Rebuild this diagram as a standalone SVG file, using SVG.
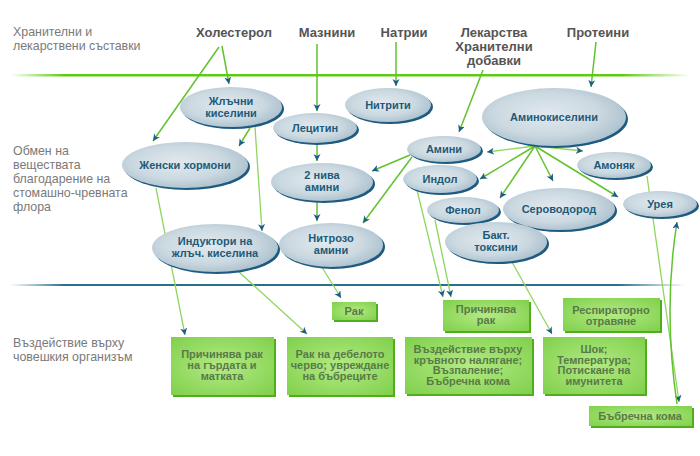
<svg xmlns="http://www.w3.org/2000/svg" width="700" height="456" viewBox="0 0 700 456">
<defs>
<style>
.lbl{font-family:"Liberation Sans",Arial,sans-serif;font-size:12.4px;fill:#7a7a7a}
.hdr{font-family:"Liberation Sans",Arial,sans-serif;font-size:13px;font-weight:bold;fill:#555;text-anchor:middle}
.et{font-family:"Liberation Sans",Arial,sans-serif;font-size:11px;font-weight:bold;fill:#1e5a78;text-anchor:middle}
.bt{font-family:"Liberation Sans",Arial,sans-serif;font-size:11px;font-weight:bold;fill:#587a48;text-anchor:middle}
.el{fill:url(#eg)}
.es{fill:#1f5b80}
.bx{fill:url(#bg)}
.bs{fill:#4fae1c}
.c{stroke:#62c22e;stroke-width:1.5;fill:none;marker-end:url(#ah)}
.cl{stroke:#8fd65e;stroke-width:1.3;fill:none;marker-end:url(#ah)}
</style>
<radialGradient id="eg" cx="0.45" cy="0.45" r="0.6">
<stop offset="0" stop-color="#e0e9ee"/>
<stop offset="0.6" stop-color="#ccd9e1"/>
<stop offset="1" stop-color="#a9bfcc"/>
</radialGradient>
<radialGradient id="bg" cx="0.5" cy="0.5" r="0.7">
<stop offset="0" stop-color="#b4ea84"/>
<stop offset="1" stop-color="#80d04c"/>
</radialGradient>
<linearGradient id="gl" x1="10" y1="0" x2="690" y2="0" gradientUnits="userSpaceOnUse">
<stop offset="0" stop-color="#5ccc14" stop-opacity="0"/>
<stop offset="0.08" stop-color="#5ccc14"/>
<stop offset="0.9" stop-color="#5ccc14"/>
<stop offset="1" stop-color="#5ccc14" stop-opacity="0"/>
</linearGradient>
<linearGradient id="bl" x1="10" y1="0" x2="685" y2="0" gradientUnits="userSpaceOnUse">
<stop offset="0" stop-color="#2b6f8f" stop-opacity="0"/>
<stop offset="0.08" stop-color="#2b6f8f"/>
<stop offset="0.9" stop-color="#2b6f8f"/>
<stop offset="1" stop-color="#2b6f8f" stop-opacity="0"/>
</linearGradient>
<marker id="ah" markerUnits="userSpaceOnUse" markerWidth="8" markerHeight="8" refX="7" refY="3.5" orient="auto">
<path d="M0,0 L7,3.5 L0,7 L2,3.5 z" fill="#1f5b8a"/>
</marker>
</defs>
<rect x="0" y="0" width="700" height="456" fill="#fff"/>

<g id="sections">
<rect x="10" y="74" width="680" height="2.5" fill="url(#gl)"/>
<rect x="10" y="284" width="675" height="2" fill="url(#bl)"/>
<text class="lbl" x="13" y="36">Хранителни и</text>
<text class="lbl" x="13" y="50">лекарствени съставки</text>
<text class="lbl" x="13" y="155">Обмен на</text>
<text class="lbl" x="13" y="169">веществата</text>
<text class="lbl" x="13" y="183">благодарение на</text>
<text class="lbl" x="13" y="197">стомашно-чревната</text>
<text class="lbl" x="13" y="211">флора</text>
<text class="lbl" x="13" y="347">Въздействие върху</text>
<text class="lbl" x="13" y="361">човешкия организъм</text>
</g>

<g id="sources">
<text class="hdr" x="234" y="37">Холестерол</text>
<text class="hdr" x="327" y="37">Мазнини</text>
<text class="hdr" x="404" y="37">Натрии</text>
<text class="hdr" x="494" y="37">Лекарства</text>
<text class="hdr" x="494" y="51">Хранителни</text>
<text class="hdr" x="494" y="65">добавки</text>
<text class="hdr" x="598" y="37">Протеини</text>
</g>

<g id="connectors">
<line class="c" x1="222" y1="46" x2="229" y2="84"/>
<line class="c" x1="219" y1="47" x2="153" y2="141"/>
<line class="c" x1="317" y1="44" x2="317" y2="111"/>
<line class="c" x1="396" y1="42" x2="396" y2="86"/>
<line class="c" x1="483" y1="70" x2="459" y2="132"/>
<line class="c" x1="596" y1="42" x2="591" y2="87"/>
<line class="c" x1="250" y1="128" x2="239" y2="146"/>
<line class="cl" x1="255" y1="127" x2="262" y2="231"/>
<line class="c" x1="317" y1="144" x2="317" y2="161"/>
<line class="c" x1="317" y1="202" x2="317" y2="221"/>
<line class="c" x1="410" y1="155" x2="372" y2="171"/>
<line class="c" x1="412" y1="157" x2="363" y2="223"/>
<line class="cl" x1="535" y1="146" x2="487" y2="152"/>
<line class="cl" x1="535" y1="146" x2="583" y2="151"/>
<line class="c" x1="535" y1="146" x2="480" y2="179"/>
<line class="c" x1="535" y1="146" x2="500" y2="198"/>
<line class="c" x1="535" y1="146" x2="553" y2="181"/>
<line class="c" x1="535" y1="146" x2="618" y2="197"/>
<line class="cl" x1="156" y1="188" x2="185" y2="335"/>
<line class="cl" x1="239" y1="272" x2="307" y2="334"/>
<line class="cl" x1="320" y1="264" x2="341" y2="298"/>
<line class="cl" x1="417" y1="190" x2="443" y2="297"/>
<line class="cl" x1="435" y1="220" x2="451" y2="297"/>
<line class="cl" x1="512" y1="262" x2="552" y2="334"/>
<line class="cl" x1="647" y1="176" x2="679" y2="402"/>
<path class="c" d="M677,404 Q663,310 677,222"/>
</g>

<g id="n-bile">
<ellipse class="es" cx="233" cy="109" rx="51" ry="20"/>
<ellipse class="el" cx="231" cy="107" rx="51" ry="20"/>
<text class="et" x="231" y="104.5">Жлъчни</text>
<text class="et" x="231" y="116.5">киселини</text>
</g>
<g id="n-lecithin">
<ellipse class="es" cx="317" cy="130" rx="42" ry="15"/>
<ellipse class="el" cx="315" cy="128" rx="42" ry="15"/>
<text class="et" x="315" y="132">Лецитин</text>
</g>
<g id="n-nitrites">
<ellipse class="es" cx="390" cy="107" rx="43" ry="17"/>
<ellipse class="el" cx="388" cy="105" rx="43" ry="17"/>
<text class="et" x="388" y="109">Нитрити</text>
</g>
<g id="n-2amines">
<ellipse class="es" cx="324" cy="184" rx="51" ry="19"/>
<ellipse class="el" cx="322" cy="182" rx="51" ry="19"/>
<text class="et" x="322" y="179">2 нива</text>
<text class="et" x="322" y="191">амини</text>
</g>
<g id="n-nitroso">
<ellipse class="es" cx="333" cy="247" rx="52" ry="22"/>
<ellipse class="el" cx="331" cy="245" rx="52" ry="22"/>
<text class="et" x="331" y="242">Нитрозо</text>
<text class="et" x="331" y="254">амини</text>
</g>
<g id="n-amino">
<ellipse class="es" cx="556" cy="119" rx="72" ry="29"/>
<ellipse class="el" cx="554" cy="117" rx="72" ry="29"/>
<text class="et" x="554" y="121">Аминокиселини</text>
</g>
<g id="n-amines">
<ellipse class="es" cx="446" cy="151" rx="37" ry="13"/>
<ellipse class="el" cx="444" cy="149" rx="37" ry="13"/>
<text class="et" x="444" y="153">Амини</text>
</g>
<g id="n-ammonia">
<ellipse class="es" cx="616" cy="167" rx="37" ry="13"/>
<ellipse class="el" cx="614" cy="165" rx="37" ry="13"/>
<text class="et" x="614" y="169">Амоняк</text>
</g>
<g id="n-indole">
<ellipse class="es" cx="442" cy="181" rx="37" ry="14"/>
<ellipse class="el" cx="440" cy="179" rx="37" ry="14"/>
<text class="et" x="440" y="183">Индол</text>
</g>
<g id="n-urea">
<ellipse class="es" cx="662" cy="206" rx="37" ry="13"/>
<ellipse class="el" cx="660" cy="204" rx="37" ry="13"/>
<text class="et" x="660" y="208">Урея</text>
</g>
<g id="n-phenol">
<ellipse class="es" cx="465" cy="212" rx="36" ry="13"/>
<ellipse class="el" cx="463" cy="210" rx="36" ry="13"/>
<text class="et" x="463" y="214">Фенол</text>
</g>
<g id="n-h2s">
<ellipse class="es" cx="561" cy="211" rx="56" ry="21"/>
<ellipse class="el" cx="559" cy="209" rx="56" ry="21"/>
<text class="et" x="559" y="213">Сероводород</text>
</g>
<g id="n-toxins">
<ellipse class="es" cx="498" cy="244" rx="51" ry="20"/>
<ellipse class="el" cx="496" cy="242" rx="51" ry="20"/>
<text class="et" x="496" y="239">Бакт.</text>
<text class="et" x="496" y="251">токсини</text>
</g>
<g id="n-female">
<ellipse class="es" cx="187" cy="167" rx="63" ry="23"/>
<ellipse class="el" cx="185" cy="165" rx="63" ry="23"/>
<text class="et" x="185" y="169">Женски хормони</text>
</g>
<g id="n-inductors">
<ellipse class="es" cx="217" cy="250" rx="63" ry="24"/>
<ellipse class="el" cx="215" cy="248" rx="63" ry="24"/>
<text class="et" x="215" y="245">Индуктори на</text>
<text class="et" x="215" y="257">жлъч. киселина</text>
</g>

<g id="b-cancer">
<rect class="bs" x="334" y="304" width="44" height="18"/>
<rect class="bx" x="332" y="302" width="44" height="18"/>
<text class="bt" x="354" y="315">Рак</text>
</g>
<g id="b-causes">
<rect class="bs" x="445" y="302" width="86" height="31"/>
<rect class="bx" x="443" y="300" width="86" height="31"/>
<text class="bt" x="486" y="313">Причинява</text>
<text class="bt" x="486" y="324">рак</text>
</g>
<g id="b-resp">
<rect class="bs" x="565" y="300" width="97" height="33"/>
<rect class="bx" x="563" y="298" width="97" height="33"/>
<text class="bt" x="611" y="314">Респираторно</text>
<text class="bt" x="611" y="325">отравяне</text>
</g>
<g id="b-breast">
<rect class="bs" x="173" y="339" width="103" height="58"/>
<rect class="bx" x="171" y="337" width="103" height="58"/>
<text class="bt" x="222" y="358">Причинява рак</text>
<text class="bt" x="222" y="369">на гърдата и</text>
<text class="bt" x="222" y="380">матката</text>
</g>
<g id="b-colon">
<rect class="bs" x="289" y="339" width="106" height="58"/>
<rect class="bx" x="287" y="337" width="106" height="58"/>
<text class="bt" x="340" y="358">Рак на дебелото</text>
<text class="bt" x="340" y="369">черво; увреждане</text>
<text class="bt" x="340" y="380">на бъбреците</text>
</g>
<g id="b-bp">
<rect class="bs" x="407" y="339" width="127" height="57"/>
<rect class="bx" x="405" y="337" width="127" height="57"/>
<text class="bt" x="468" y="353">Въздействие върху</text>
<text class="bt" x="468" y="363.5">кръвното налягане;</text>
<text class="bt" x="468" y="374">Възпаление;</text>
<text class="bt" x="468" y="384.5">Бъбречна кома</text>
</g>
<g id="b-shock">
<rect class="bs" x="545" y="339" width="102" height="57"/>
<rect class="bx" x="543" y="337" width="102" height="57"/>
<text class="bt" x="594" y="353">Шок;</text>
<text class="bt" x="594" y="363.5">Температура;</text>
<text class="bt" x="594" y="374">Потискане на</text>
<text class="bt" x="594" y="384.5">имунитета</text>
</g>
<g id="b-kidney">
<rect class="bs" x="591" y="408" width="103" height="20"/>
<rect class="bx" x="589" y="406" width="103" height="20"/>
<text class="bt" x="640" y="420">Бъбречна кома</text>
</g>
</svg>
